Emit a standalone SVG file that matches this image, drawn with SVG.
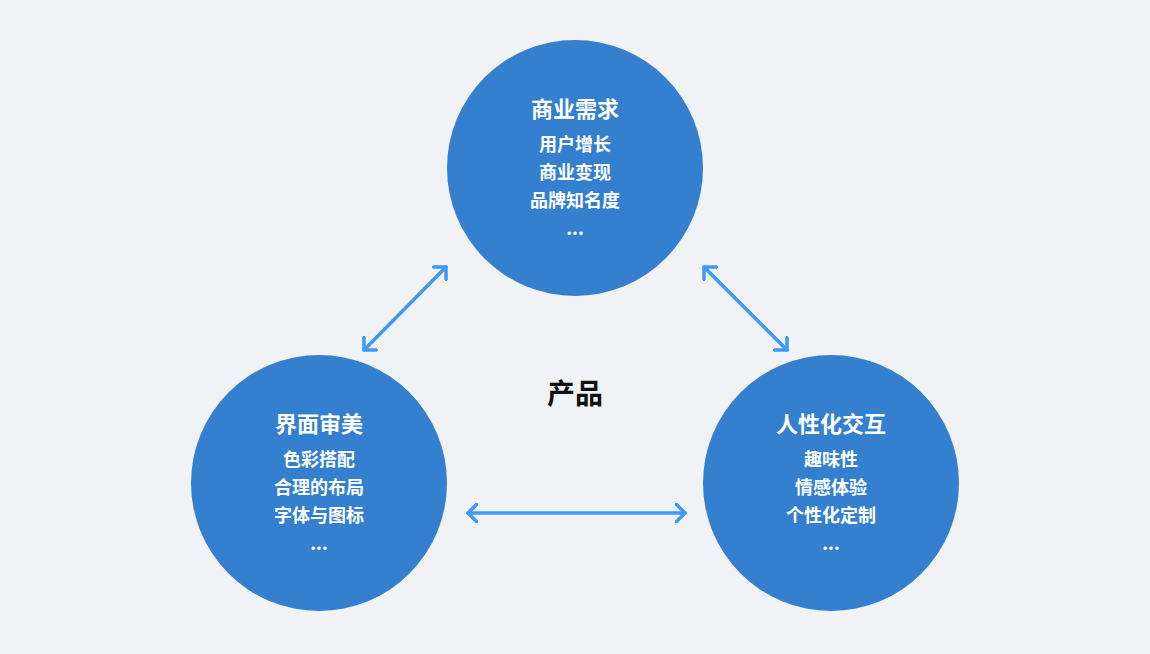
<svg xmlns="http://www.w3.org/2000/svg" width="1150" height="654" viewBox="0 0 1150 654">
<style>
.c{fill:#3480cf}
.t{font-family:"Noto Sans CJK SC",sans-serif;fill:#fff;text-anchor:middle;font-weight:bold}
.h{font-size:22px}
.l{font-size:18px}
.a{stroke:#3d9bf5;stroke-width:3.5;fill:none;stroke-linecap:round;stroke-linejoin:round}
</style>
<defs>
<marker id="m" viewBox="0 0 20 20" refX="10" refY="10" markerWidth="20" markerHeight="20" markerUnits="userSpaceOnUse" orient="auto-start-reverse">
<path d="M1,1 L10,10 L1,19" stroke="#3d9bf5" stroke-width="3.5" fill="none" stroke-linecap="round" stroke-linejoin="round"/>
</marker>
</defs>
<rect width="1150" height="654" fill="#f0f2f6"/>
<g id="top"><circle class="c" cx="575" cy="168" r="128"/>
<text class="t h" x="575" y="117">商业需求</text>
<text class="t l" x="575" y="151">用户增长</text>
<text class="t l" x="575" y="179">商业变现</text>
<text class="t l" x="575" y="207">品牌知名度</text>
<text class="t l" x="575" y="235">...</text></g>
<g id="left"><circle class="c" cx="319" cy="483" r="128"/>
<text class="t h" x="319" y="432">界面审美</text>
<text class="t l" x="319" y="466">色彩搭配</text>
<text class="t l" x="319" y="494">合理的布局</text>
<text class="t l" x="319" y="522">字体与图标</text>
<text class="t l" x="319" y="550">...</text></g>
<g id="right"><circle class="c" cx="831" cy="483" r="128"/>
<text class="t h" x="831" y="432">人性化交互</text>
<text class="t l" x="831" y="466">趣味性</text>
<text class="t l" x="831" y="494">情感体验</text>
<text class="t l" x="831" y="522">个性化定制</text>
<text class="t l" x="831" y="550">...</text></g>
<g id="center"><text x="575" y="404" font-family="Noto Sans CJK SC,sans-serif" font-size="28" font-weight="bold" text-anchor="middle" fill="#111">产品</text></g>
<g id="connectors">
<line class="a" x1="364" y1="350" x2="446" y2="267" marker-start="url(#m)" marker-end="url(#m)"/>
<line class="a" x1="704" y1="267" x2="787" y2="350" marker-start="url(#m)" marker-end="url(#m)"/>
<line class="a" x1="468" y1="513" x2="685" y2="513" marker-start="url(#m)" marker-end="url(#m)"/>
</g>
</svg>
